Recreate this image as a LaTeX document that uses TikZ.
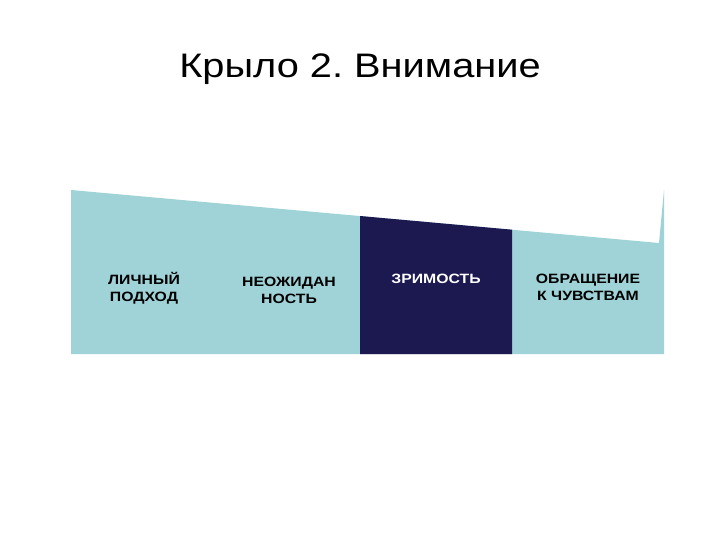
\documentclass[tikz,border=0pt]{standalone}
\usepackage{fontspec}
\setmainfont[FakeStretch=1.17]{Liberation Sans}
\newfontfamily\boxfont[FakeStretch=1.17]{Liberation Sans}
\definecolor{lightteal}{RGB}{159,211,216}
\definecolor{navy}{RGB}{27,25,80}
\begin{document}
\frenchspacing
\begin{tikzpicture}[x=1pt,y=-1pt,
  lbl/.style={font=\boxfont\bfseries\fontsize{13.5}{17}\selectfont,align=center,inner sep=0pt}]
\useasboundingbox (0,0) rectangle (720,540);
\fill[white] (0,0) rectangle (720,540);
% light band
\fill[lightteal] (71,190) -- (659,243) -- (664,190) -- (664,354) -- (71,354) -- cycle;
% navy column
\fill[navy] (360,216) -- (512,229.7) -- (512,354) -- (360,354) -- cycle;
\node[font=\fontsize{34}{40}\selectfont,anchor=base] (title) at (360,78) {Крыло 2. Внимание};
\node[lbl] (a) at (144,288.5) {ЛИЧНЫЙ\\ПОДХОД};
\node[lbl] (b) at (289,290) {НЕОЖИДАН\\НОСТЬ};
\node[lbl,text=white] (c) at (436,279) {ЗРИМОСТЬ};
\node[lbl] (d) at (588,287.5) {ОБРАЩЕНИЕ\\К ЧУВСТВАМ};
\end{tikzpicture}
\end{document}
